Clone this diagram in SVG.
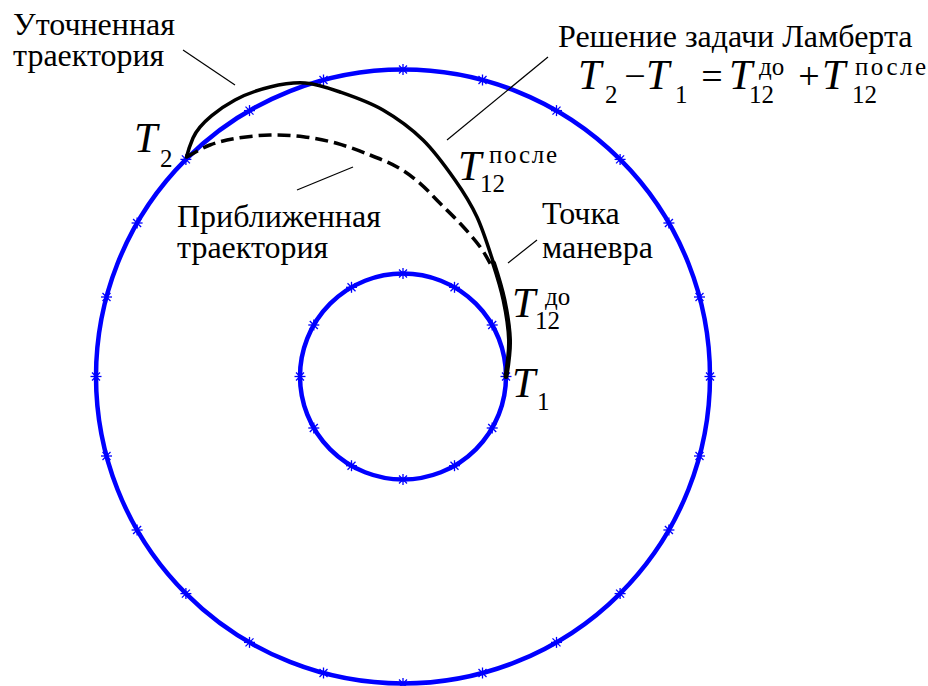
<svg xmlns="http://www.w3.org/2000/svg" width="928" height="686" viewBox="0 0 928 686">
<style>
.orbit{fill:none;stroke:#0000ff;stroke-width:4.5}
.traj{fill:none;stroke:#000;stroke-width:3.5;stroke-linecap:round;stroke-linejoin:round}
.dash{fill:none;stroke:#000;stroke-width:3.5;stroke-dasharray:13 6}
.leader{stroke:#000;stroke-width:1.2;fill:none}
.txt{font-size:32px}
.mi{font-style:italic;font-size:42px}
.mr{font-size:25px}
.op{font-size:38px;text-anchor:middle}
</style>
<defs>
<g id="star" stroke="#0000ff" stroke-width="1.3">
<line x1="-5.5" y1="0" x2="5.5" y2="0"/>
<line x1="0" y1="-5.5" x2="0" y2="5.5"/>
<line x1="-4" y1="-4" x2="4" y2="4"/>
<line x1="-4" y1="4" x2="4" y2="-4"/>
</g>
</defs>
<rect width="928" height="686" fill="#fff"/>
<g id="outer-orbit">
<circle class="orbit" cx="403" cy="376.5" r="307"/>
<use href="#star" x="710" y="376.5"/><use href="#star" x="699.5" y="456"/><use href="#star" x="668.9" y="530"/><use href="#star" x="620.1" y="593.6"/><use href="#star" x="556.5" y="642.4"/><use href="#star" x="482.5" y="673"/><use href="#star" x="403" y="683.5"/><use href="#star" x="323.5" y="673"/><use href="#star" x="249.5" y="642.4"/><use href="#star" x="185.9" y="593.6"/><use href="#star" x="137.1" y="530"/><use href="#star" x="106.5" y="456"/><use href="#star" x="96" y="376.5"/><use href="#star" x="106.5" y="297"/><use href="#star" x="137.1" y="223"/><use href="#star" x="185.9" y="159.4"/><use href="#star" x="249.5" y="110.6"/><use href="#star" x="323.5" y="80"/><use href="#star" x="403" y="69.5"/><use href="#star" x="482.5" y="80"/><use href="#star" x="556.5" y="110.6"/><use href="#star" x="620.1" y="159.4"/><use href="#star" x="668.9" y="223"/><use href="#star" x="699.5" y="297"/>
</g>
<g id="inner-orbit">
<circle class="orbit" cx="403" cy="376.5" r="103"/>
<use href="#star" x="506" y="376.5"/><use href="#star" x="492.2" y="428"/><use href="#star" x="454.5" y="465.7"/><use href="#star" x="403" y="479.5"/><use href="#star" x="351.5" y="465.7"/><use href="#star" x="313.8" y="428"/><use href="#star" x="300" y="376.5"/><use href="#star" x="313.8" y="325"/><use href="#star" x="351.5" y="287.3"/><use href="#star" x="403" y="273.5"/><use href="#star" x="454.5" y="287.3"/><use href="#star" x="492.2" y="325"/>
</g>
<g id="refined-trajectory">
<path class="traj" d="M506,376.5 C507,370 509.9,352.7 509.5,340 C509.1,327.3 506.7,312.8 504,300 C501.3,287.2 498,276.8 493.5,263 C489,249.2 483.4,230.8 477,217 C470.6,203.2 464,192.8 455,180 C446,167.2 435,151.7 423,140 C411,128.3 396.8,118 383,110 C369.2,102 353,96.5 340,92 C327,87.5 316.7,83.8 305,83 C293.3,82.2 281.7,84.2 270,87 C258.3,89.8 245.5,94.3 235,100 C222,107 200,122 193,138 C190,145 188,151 186.5,157"/>
<path class="traj" style="stroke-width:5" d="M506,376.5 C507,370 509.9,352.7 509.5,340 C509.1,327.3 506.7,312.8 504,300 C501.3,287.2 498,276.8 493.5,263"/>
</g>
<g id="approx-trajectory">
<path class="dash" d="M186.5,157 C190.4,155 201.6,148.1 210,145 C218.4,141.9 226.7,140 236.7,138.3 C246.7,136.6 258.9,135.3 270,135 C281.1,134.7 292.2,135.3 303.3,136.7 C314.4,138.1 325.6,140.3 336.7,143.3 C347.8,146.4 359.8,151 370,155 C380.2,159 389.7,162.8 398,167.5 C406.3,172.2 413,177.3 420,183.3 C427,189.3 433.3,196.6 440,203.3 C446.7,210 453.3,216.1 460,223.3 C466.7,230.5 474.8,239.7 480,246.7 C485.2,253.6 489.2,262 491,265"/>
</g>
<g id="connectors">
<line class="leader" x1="183" y1="50" x2="235" y2="85"/>
<line class="leader" x1="548" y1="57" x2="447" y2="140"/>
<line class="leader" x1="297" y1="190" x2="353" y2="167"/>
<line class="leader" x1="508" y1="263" x2="537" y2="240"/>
</g>
<g font-family="Liberation Serif, Times New Roman, DejaVu Serif, serif" fill="#000">
<g id="label-refined">
<text class="txt" x="13" y="35">Уточненная</text>
<text class="txt" x="13" y="66">траектория</text>
</g>
<g id="label-lambert">
<text class="txt" x="558" y="47">Решение задачи Ламберта</text>
</g>
<g id="formula">
<text class="mi" x="578" y="89">T</text>
<text class="mr" x="605" y="103">2</text>
<text class="op" x="635" y="89">−</text>
<text class="mi" x="646" y="89">T</text>
<text class="mr" x="675" y="103">1</text>
<text class="op" x="712" y="89">=</text>
<text class="mi" x="729" y="89">T</text>
<text class="mr" x="749" y="103">12</text>
<text class="mr" x="759" y="75">до</text>
<text class="op" x="809" y="89">+</text>
<text class="mi" x="822" y="89">T</text>
<text class="mr" x="852" y="103">12</text>
<text class="mr" x="855" y="75" textLength="71" lengthAdjust="spacing">после</text>
</g>
<g id="label-approx">
<text class="txt" x="177" y="227">Приближенная</text>
<text class="txt" x="177" y="258">траектория</text>
</g>
<g id="label-maneuver">
<text class="txt" x="542" y="224">Точка</text>
<text class="txt" x="542" y="258">маневра</text>
</g>
<g id="label-T2">
<text class="mi" x="134" y="152">T</text>
<text class="mr" x="160" y="167">2</text>
</g>
<g id="label-T12-after">
<text class="mi" x="458" y="180">T</text>
<text class="mr" x="480" y="192">12</text>
<text class="mr" x="489" y="163" textLength="68" lengthAdjust="spacing">после</text>
</g>
<g id="label-T12-before">
<text class="mi" x="512" y="317">T</text>
<text class="mr" x="535" y="329">12</text>
<text class="mr" x="545" y="305">до</text>
</g>
<g id="label-T1">
<text class="mi" x="512" y="397">T</text>
<text class="mr" x="537" y="410">1</text>
</g>
</g>
</svg>
